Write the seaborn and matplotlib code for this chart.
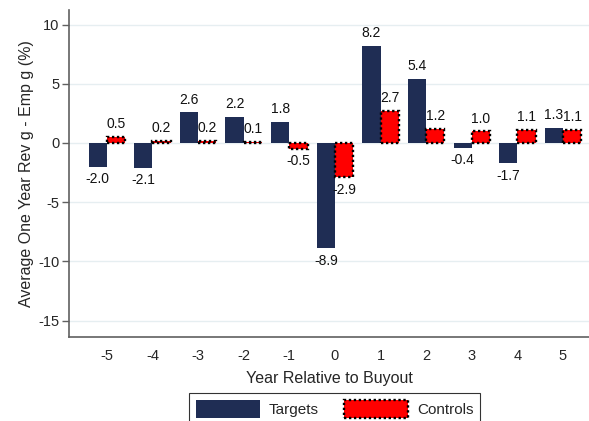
import matplotlib
matplotlib.use("Agg")
import matplotlib.pyplot as plt
from matplotlib.patches import Patch
import numpy as np
import pandas as pd
import seaborn as sns

# Data
years = ["-5", "-4", "-3", "-2", "-1", "0", "1", "2", "3", "4", "5"]
targets = [-2.0, -2.1, 2.6, 2.2, 1.8, -8.9, 8.2, 5.4, -0.4, -1.7, 1.3]
controls = [0.5, 0.2, 0.2, 0.1, -0.5, -2.9, 2.7, 1.2, 1.0, 1.1, 1.1]
groups = ["Targets", "Controls"]

NAVY = "#1f2d54"
RED = "#ff0000"
GRID = "#e6eef1"
SPINE = "#606060"

df = pd.DataFrame({
    "year": years * 2,
    "value": targets + controls,
    "group": ["Targets"] * len(years) + ["Controls"] * len(years),
})

sns.set_style("white")
plt.rcParams["font.family"] = ["Liberation Sans", "DejaVu Sans"]

fig = plt.figure(figsize=(5.89, 4.21), dpi=100)
ax = fig.add_axes([69 / 589, 1 - 337 / 421, 1 - 69 / 589, (337 - 10) / 421])

sns.barplot(data=df, x="year", y="value", hue="group", order=years,
            hue_order=groups, palette=[NAVY, RED], width=0.8,
            saturation=1, errorbar=None, ax=ax, legend=False, zorder=3)

# controls bars: dotted black outline
dot_style = (0, (1, 1.1))
for bar in ax.containers[1]:
    bar.set_edgecolor("black")
    bar.set_linewidth(1.7)
    bar.set_linestyle(dot_style)
for bar in ax.containers[0]:
    bar.set_linewidth(0)

for cont in ax.containers:
    ax.bar_label(cont, fmt="%.1f", padding=4, fontsize=10, color="#111111")

ax.set_ylim(-16.39, 11.23)
ax.set_xlim(-0.83, 10.57)
ax.set_yticks([-15, -10, -5, 0, 5, 10])
ax.set_yticklabels(["-15", "-10", "-5", "0", "5", "10"])
ax.yaxis.grid(True, color=GRID, linewidth=1, zorder=0)
ax.set_axisbelow(True)

for side in ["top", "right"]:
    ax.spines[side].set_visible(False)
for side in ["left", "bottom"]:
    ax.spines[side].set_color(SPINE)
    ax.spines[side].set_linewidth(1.2)

ax.tick_params(axis="y", which="both", left=True, length=5, width=1,
               color=SPINE, labelsize=10.5, pad=2)
ax.tick_params(axis="x", bottom=False, labelsize=10.5, pad=5)

ax.set_ylabel("Average One Year Rev g - Emp g (%)", fontsize=11.5, labelpad=3)
ax.set_xlabel("Year Relative to Buyout", fontsize=11.5, labelpad=6)

handles = [
    Patch(facecolor=NAVY, edgecolor=NAVY, linewidth=0),
    Patch(facecolor=RED, edgecolor="black", linewidth=1.7, linestyle=dot_style),
]
leg = fig.legend(handles, groups, loc="upper center", ncol=2,
                 bbox_to_anchor=(0.568, 1 - 393 / 421), frameon=True,
                 fancybox=False, fontsize=11, handlelength=4.2,
                 handleheight=1.4, columnspacing=1.6, handletextpad=0.6,
                 borderpad=0.45, borderaxespad=0)
leg.get_frame().set_edgecolor("black")
leg.get_frame().set_linewidth(0.8)

fig.savefig("out.png", dpi=100)
